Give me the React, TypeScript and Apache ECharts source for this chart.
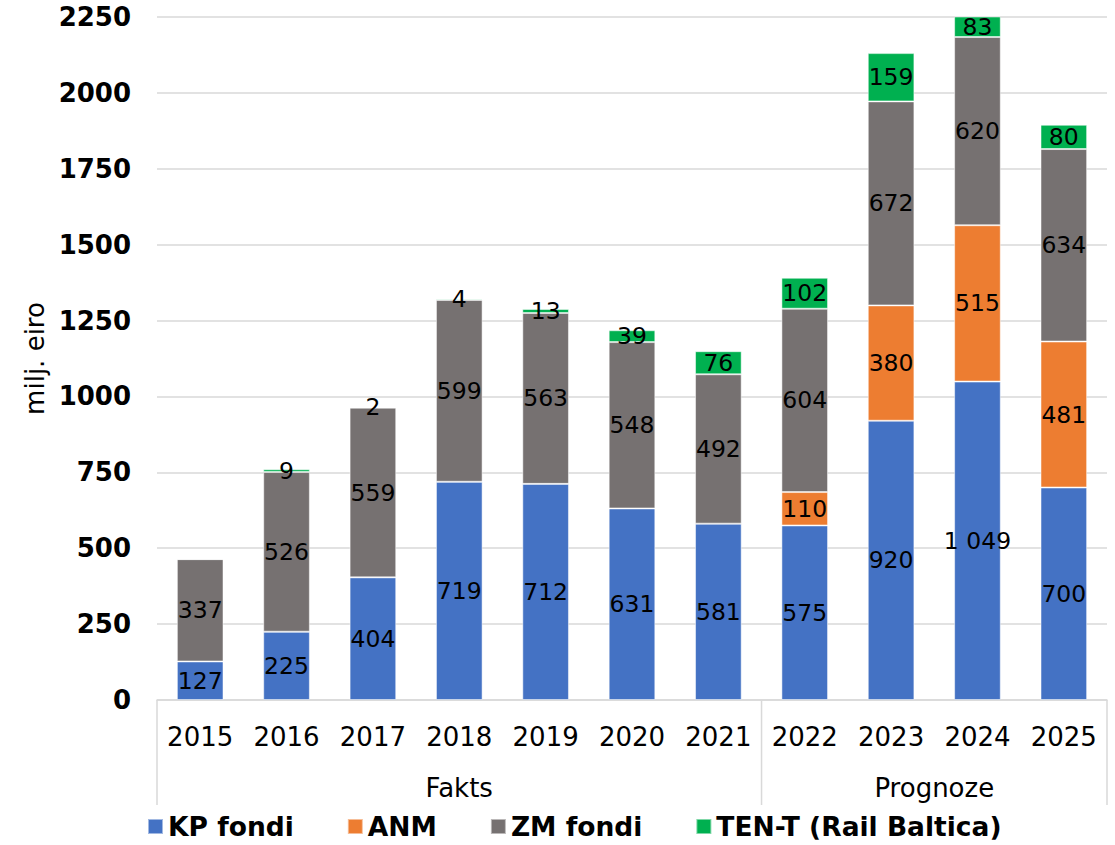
import React, { useEffect, useRef } from "react";
import * as echarts from "echarts";

const categories = ["2015", "2016", "2017", "2018", "2019", "2020", "2021", "2022", "2023", "2024", "2025"];
const kpFondi = [127, 225, 404, 719, 712, 631, 581, 575, 920, 1049, 700];
const anm = [0, 0, 0, 0, 0, 0, 0, 110, 380, 515, 481];
const zmFondi = [337, 526, 559, 599, 563, 548, 492, 604, 672, 620, 634];
const tenT = [0, 9, 2, 4, 13, 39, 76, 102, 159, 83, 80];
const groups = [
  { name: "Fakts", from: 0, to: 6 },
  { name: "Prognoze", from: 7, to: 10 },
];
const yTicks = { min: 0, max: 2250, interval: 250 };

const FONT = "DejaVu Sans";

function fmt(v: number): string {
  if (!v) return "";
  const s = String(v);
  return s.length > 3 ? s.slice(0, s.length - 3) + " " + s.slice(-3) : s;
}

export default function App() {
  const ref = useRef<HTMLDivElement>(null);
  useEffect(() => {
    document.body.style.margin = "0";
    const chart = echarts.init(ref.current!, null, { renderer: "svg" });
    const label = {
      show: true,
      position: "inside" as const,
      color: "#000",
      fontFamily: FONT,
      fontSize: 23.5,
      formatter: (p: any) => fmt(p.value),
    };
    const mk = (name: string, data: number[], color: string) => ({
      name,
      type: "bar",
      stack: "total",
      data,
      barWidth: "54%",
      itemStyle: { color, borderColor: "rgba(255,255,255,0.5)", borderWidth: 1 },
      label,
    });
    chart.setOption({
      animation: false,
      grid: { left: 157, right: 8, top: 17, bottom: 145, containLabel: false },
      legend: {
        bottom: 0,
        left: 142,
        icon: "rect",
        itemWidth: 15,
        itemHeight: 15,
        itemGap: 53,
        textStyle: { fontFamily: FONT, fontSize: 26.5, fontWeight: "bold", color: "#000" },
        data: ["KP fondi", "ANM", "ZM fondi", "TEN-T (Rail Baltica)"],
      },
      xAxis: {
        type: "category",
        data: categories,
        axisLine: { lineStyle: { color: "#d9d9d9", width: 1.5 } },
        axisTick: { show: false },
        axisLabel: { color: "#000", fontFamily: FONT, fontSize: 26, margin: 24 },
      },
      yAxis: {
        type: "value",
        min: yTicks.min,
        max: yTicks.max,
        interval: yTicks.interval,
        name: "milj. eiro",
        nameLocation: "middle",
        nameGap: 108,
        nameTextStyle: { color: "#000", fontFamily: FONT, fontSize: 26 },
        axisLine: { show: false },
        axisTick: { show: false },
        splitLine: { lineStyle: { color: "#d9d9d9", width: 1.5 } },
        axisLabel: {
          color: "#000",
          fontFamily: FONT,
          fontSize: 26,
          fontWeight: "bold",
          margin: 26,
          formatter: (v: number) => String(v),
        },
      },
      series: [
        mk("KP fondi", kpFondi, "#4472C4"),
        mk("ANM", anm, "#ED7D31"),
        mk("ZM fondi", zmFondi, "#767171"),
        mk("TEN-T (Rail Baltica)", tenT, "#00B050"),
      ],
    });

    const xc = (i: number) => chart.convertToPixel({ xAxisIndex: 0 }, i) as number;
    const y0 = chart.convertToPixel({ yAxisIndex: 0 }, 0) as number;
    const band = xc(1) - xc(0);
    const bottomY = y0 + 105;
    const elements: any[] = [];
    const bounds = [xc(0) - band / 2];
    groups.forEach((g) => bounds.push(xc(g.to) + band / 2));
    bounds.forEach((bx) =>
      elements.push({
        type: "line",
        shape: { x1: bx, y1: y0, x2: bx, y2: bottomY },
        style: { stroke: "#d9d9d9", lineWidth: 1.5 },
      })
    );
    groups.forEach((g) =>
      elements.push({
        type: "text",
        x: (xc(g.from) + xc(g.to)) / 2,
        y: y0 + 88,
        style: {
          text: g.name,
          fill: "#000",
          font: `26px "${FONT}"`,
          align: "center",
          verticalAlign: "middle",
        },
      })
    );
    chart.setOption({ graphic: { elements } });

    return () => chart.dispose();
  }, []);
  return <div ref={ref} style={{ width: 1115, height: 845 }} />;
}
